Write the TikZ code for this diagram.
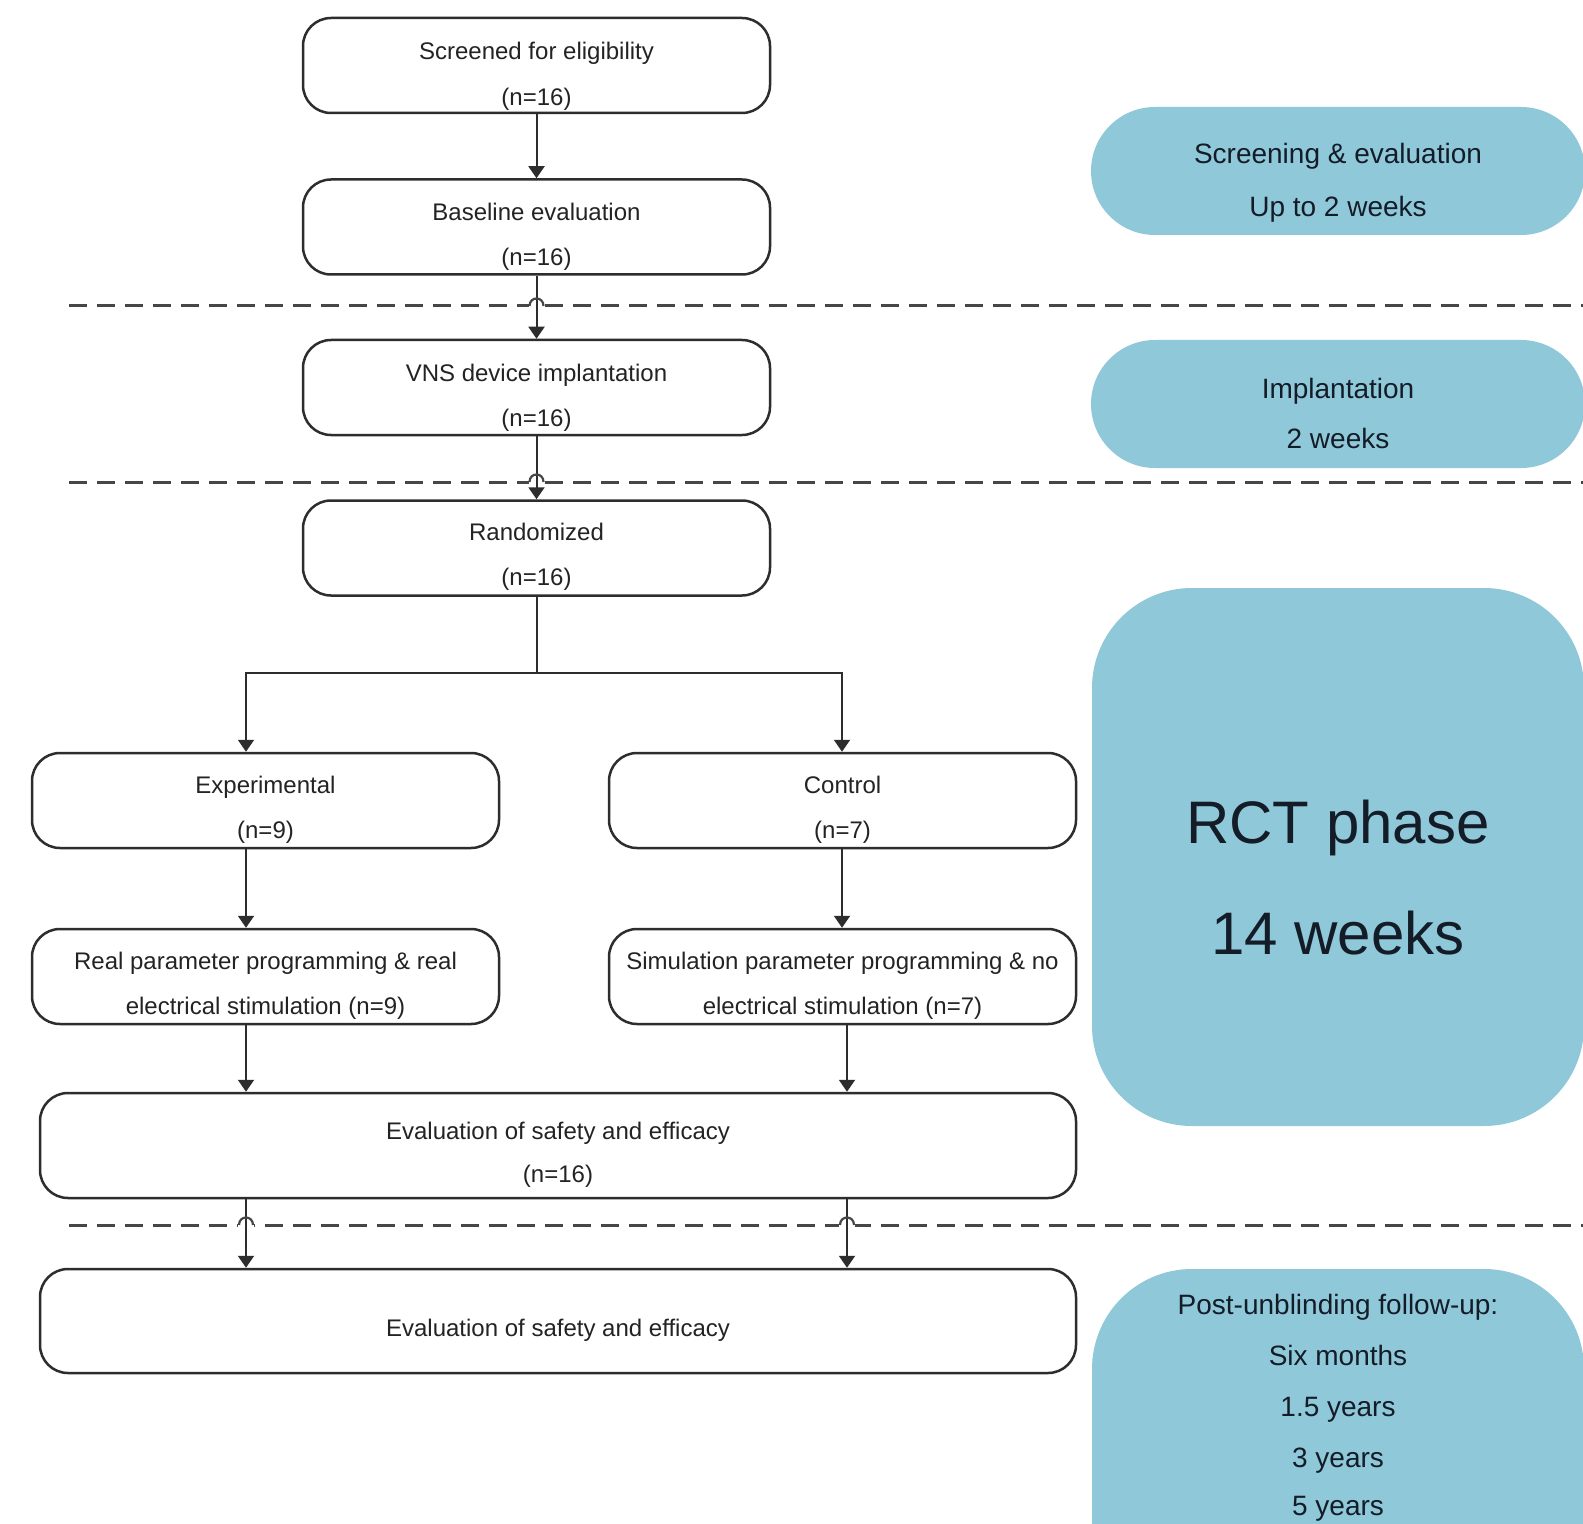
\documentclass[tikz,border=0pt]{standalone}
\usepackage{fontspec}
\setmainfont{Liberation Sans}
\usetikzlibrary{arrows.meta,calc}
\definecolor{bluebox}{RGB}{143,201,217}
\definecolor{boxline}{RGB}{45,45,45}
\definecolor{txt}{RGB}{35,35,35}
\definecolor{bluetxt}{RGB}{20,28,40}
\definecolor{dashc}{RGB}{70,70,70}
\begin{document}
\begin{tikzpicture}[x=0.5pt,y=-0.5pt,
  fbox/.style={draw=boxline,line width=1.25pt,rounded corners=14pt,inner sep=0pt,minimum width=233.5pt,minimum height=47.5pt},
  widebox/.style={fbox,minimum width=518pt,minimum height=52.5pt},
  ftext/.style={text=txt,font=\fontsize{12}{14}\selectfont,inner sep=0pt,text height=9pt,text depth=2.5pt},
  btext/.style={text=bluetxt,font=\fontsize{14}{16}\selectfont,inner sep=0pt,text height=10.5pt,text depth=3pt},
  bigtext/.style={text=bluetxt,font=\fontsize{30}{34}\selectfont,inner sep=0pt,text height=21.5pt,text depth=6pt},
  bluepill/.style={fill=bluebox,draw=none,inner sep=0pt},
  conn/.style={draw=boxline,line width=1pt},
  arr/.style={conn,-{Triangle[width=8pt,length=6pt]}},
  dashline/.style={draw=dashc,line width=1.5pt,dash pattern=on 9pt off 5pt},
  hop/.style={draw=dashc,line width=1.1pt}
]
\path[use as bounding box] (0,0) rectangle (1583,1524);
\clip (0,0) rectangle (1583,1524);
\fill[white] (0,0) rectangle (1583,1524);

% right-hand phase boxes
\node[bluepill,rounded corners=32pt,minimum width=247pt,minimum height=64pt] (pse) at (1338,171) {};
\node[bluepill,rounded corners=32pt,minimum width=247pt,minimum height=64pt] (pimp) at (1338,404) {};
\node[bluepill,rounded corners=50pt,minimum width=246pt,minimum height=269pt] (prct) at (1338,857) {};
\node[bluepill,rounded corners=50pt,minimum width=246pt,minimum height=180pt] (ppost) at (1338,1449) {};

\node[btext] (tse1) at (1338,156.5) {Screening \& evaluation};
\node[btext] (tse2) at (1338,209) {Up to 2 weeks};
\node[btext] (timp1) at (1338,391) {Implantation};
\node[btext] (timp2) at (1338,441) {2 weeks};
\node[bigtext] (trct1) at (1338,828) {RCT phase};
\node[bigtext] (trct2) at (1338,939) {14 weeks};
\node[btext] (tp1) at (1338,1307) {Post-unblinding follow-up:};
\node[btext] (tp2) at (1338,1358) {Six months};
\node[btext] (tp3) at (1338,1409) {1.5 years};
\node[btext] (tp4) at (1338,1460) {3 years};
\node[btext] (tp5) at (1338,1508) {5 years};

% dashed separators
\draw[dashline] (69,306) -- (1583,306);
\draw[dashline] (69,482) -- (1583,482);
\draw[dashline] (69,1225) -- (1583,1225);
% gaps for hops
\foreach \hx/\hy in {536.5/306,536.5/482,246/1225,847/1225}
  \draw[white,line width=3pt] (\hx-8,\hy) -- (\hx+8,\hy);

% flow boxes
\node[fbox] (scr) at (536.5,65.5) {};
\node[fbox] (base) at (536.5,227) {};
\node[fbox] (vns) at (536.5,387.5) {};
\node[fbox] (rand) at (536.5,548) {};
\node[fbox] (exp) at (265.5,800.5) {};
\node[fbox] (ctl) at (842.5,800.5) {};
\node[fbox] (real) at (265.5,976.5) {};
\node[fbox] (sim) at (842.5,976.5) {};
\node[widebox] (ev1) at (558,1145.5) {};
\node[widebox,minimum height=52pt] (ev2) at (558,1321) {};

% flow texts
\node[ftext] (scr1) at ($(scr.north)+(0,36)$) {Screened for eligibility};
\node[ftext] (scr2) at ($(scr.north)+(0,82)$) {(n=16)};
\node[ftext] (base1) at ($(base.north)+(0,36)$) {Baseline evaluation};
\node[ftext] (base2) at ($(base.north)+(0,81)$) {(n=16)};
\node[ftext] (vns1) at ($(vns.north)+(0,36)$) {VNS device implantation};
\node[ftext] (vns2) at ($(vns.north)+(0,81)$) {(n=16)};
\node[ftext] (rand1) at ($(rand.north)+(0,35)$) {Randomized};
\node[ftext] (rand2) at ($(rand.north)+(0,80)$) {(n=16)};
\node[ftext] (exp1) at ($(exp.north)+(0,35)$) {Experimental};
\node[ftext] (exp2) at ($(exp.north)+(0,80)$) {(n=9)};
\node[ftext] (ctl1) at ($(ctl.north)+(0,35)$) {Control};
\node[ftext] (ctl2) at ($(ctl.north)+(0,80)$) {(n=7)};
\node[ftext] (real1) at ($(real.north)+(0,35)$) {Real parameter programming \& real};
\node[ftext] (real2) at ($(real.north)+(0,80)$) {electrical stimulation (n=9)};
\node[ftext] (sim1) at ($(sim.north)+(0,35)$) {Simulation parameter programming \& no};
\node[ftext] (sim2) at ($(sim.north)+(0,80)$) {electrical stimulation (n=7)};
\node[ftext] (ev11) at ($(ev1.north)+(0,41)$) {Evaluation of safety and efficacy};
\node[ftext] (ev12) at ($(ev1.north)+(0,84)$) {(n=16)};
\node[ftext] (ev21) at ($(ev2.north)+(0,62)$) {Evaluation of safety and efficacy};

% connectors
\coordinate (bl) at (246,673);
\coordinate (br) at (842,673);
\coordinate (xr) at (847,1000);
\draw[arr] (scr.south) -- (base.north);
\draw[arr] (base.south) -- (vns.north);
\draw[arr] (vns.south) -- (rand.north);
\draw[arr] (rand.south) |- (bl) -- (exp.north -| bl);
\draw[arr] (rand.south) |- (br) -- (ctl.north -| br);
\draw[arr] (exp.south -| bl) -- (real.north -| bl);
\draw[arr] (ctl.south -| br) -- (sim.north -| br);
\draw[arr] (real.south -| bl) -- (ev1.north -| bl);
\draw[arr] (sim.south -| xr) -- (ev1.north -| xr);
\draw[arr] (ev1.south -| bl) -- (ev2.north -| bl);
\draw[arr] (ev1.south -| xr) -- (ev2.north -| xr);

% hops of the dashed lines over the arrows
\foreach \hx/\hy in {536.5/306,536.5/482,246/1225,847/1225}
  \draw[hop] (\hx-7,\hy) .. controls (\hx-7,\hy-10) and (\hx+7,\hy-10) .. (\hx+7,\hy);
\end{tikzpicture}
\end{document}
